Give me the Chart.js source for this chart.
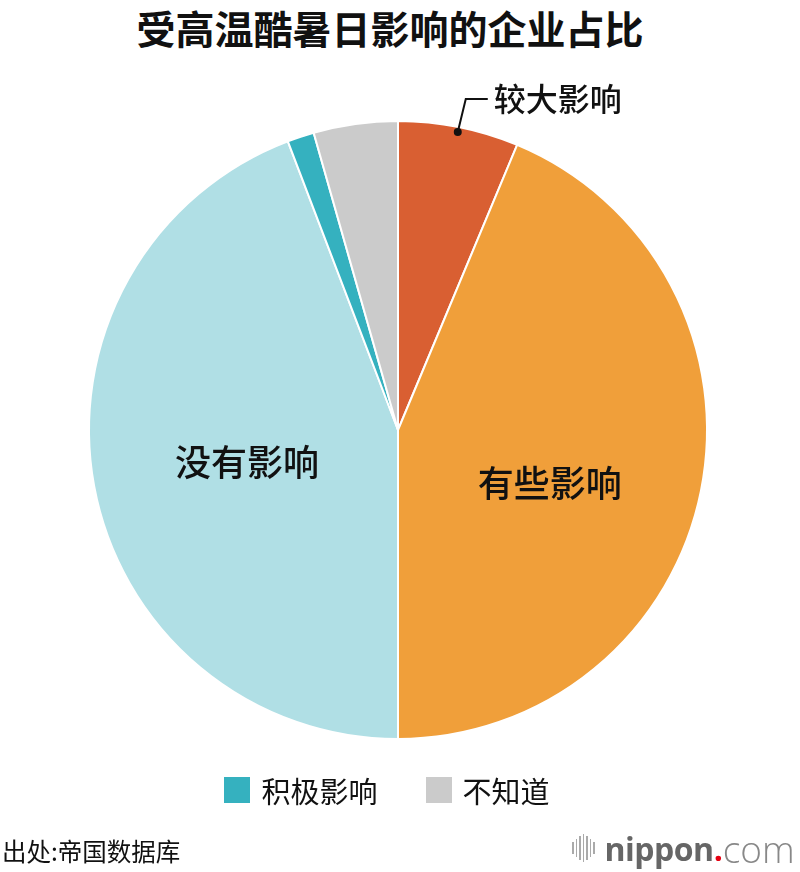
<!DOCTYPE html>
<html>
<head>
<meta charset="utf-8">
<script src="https://cdn.jsdelivr.net/npm/chart.js@4.4.1/dist/chart.umd.min.js"></script>
<style>
  body { margin: 0; background: #fff; font-family: "Noto Sans CJK SC", sans-serif; }
  #page { position: relative; width: 800px; height: 872px; overflow: hidden; }
  #title { position: absolute; top: 0; left: 0; width: 780px; text-align: center; margin: 0;
    font-size: 39px; line-height: 54px; font-weight: 700; color: #111; }
  #chartBox { position: absolute; left: 0; top: 0; width: 800px; height: 872px; }
  #legend { position: absolute; top: 770px; left: 0; width: 774px; display: flex; justify-content: center; gap: 48px; }
  .item { display: flex; align-items: center; font-size: 29px; line-height: 40px; color: #111; }
  .box { width: 26px; height: 26px; margin-right: 11px; }
  #source { position: absolute; left: 2px; top: 834px; font-size: 24.5px; line-height: 34px; color: #111; }
  #logo { position: absolute; left: 572px; top: 826px; height: 44px; display: flex; align-items: center; }
  .bars { display: flex; align-items: center; gap: 2px; margin-right: 10px; }
  .bars span { display: block; width: 1.5px; background: #aaa; }
  .nip { font-family: "Open Sans", sans-serif; font-weight: 700; font-size: 32px; color: #666; letter-spacing: -0.5px; }
  .dot { font-family: "Open Sans", sans-serif; font-weight: 700; font-size: 32px; color: #e60012; }
  .com { font-family: "Open Sans", sans-serif; font-weight: 300; font-size: 37px; color: #888; }
</style>
</head>
<body>
<div id="page">
  <h1 id="title">受高温酷暑日影响的企业占比</h1>
  <div id="chartBox"><canvas id="myChart"></canvas></div>
  <div id="legend"></div>
  <div id="source">出处:帝国数据库</div>
  <div id="logo">
    <div class="bars">
      <span style="height:12px"></span><span style="height:18px"></span><span style="height:24px"></span>
      <span style="height:28px"></span><span style="height:24px"></span><span style="height:18px"></span>
      <span style="height:12px"></span>
    </div>
    <span class="nip">nippon</span><span class="dot">.</span><span class="com">com</span>
  </div>
</div>
<script>
const categories = ["较大影响", "有些影响", "没有影响", "积极影响", "不知道"];
const shares = [6.3, 43.7, 44.2, 1.4, 4.4];
const colors = ["#D95F32", "#F09F3A", "#B0DFE5", "#35B1BF", "#CBCBCB"];
const legendShown = ["积极影响", "不知道"];

// labels written on the slices: where along the arc and how far out
const insideLabels = [
  { index: 1, along: 0.55, dist: 0.52 },
  { index: 2, along: 0.49, dist: 0.50 },
];
const calloutIndex = 0;

const sliceLabels = {
  id: "sliceLabels",
  afterDatasetsDraw(chart) {
    const ctx = chart.ctx;
    const arcs = chart.getDatasetMeta(0).data;
    ctx.save();
    ctx.fillStyle = "#111";
    ctx.textAlign = "center";
    ctx.textBaseline = "middle";
    ctx.font = '500 36px "Noto Sans CJK SC"';
    insideLabels.forEach((l) => {
      const a = arcs[l.index].getProps(["x", "y", "startAngle", "endAngle", "outerRadius"], true);
      const ang = a.startAngle + (a.endAngle - a.startAngle) * l.along;
      const r = a.outerRadius * l.dist;
      ctx.fillText(categories[l.index], a.x + Math.cos(ang) * r, a.y + Math.sin(ang) * r);
    });

    // leader line for the small slice
    const c = arcs[calloutIndex].getProps(["x", "y", "startAngle", "endAngle", "outerRadius"], true);
    const mid = (c.startAngle + c.endAngle) / 2;
    const dx = c.x + Math.cos(mid) * (c.outerRadius - 5);
    const dy = c.y + Math.sin(mid) * (c.outerRadius - 5);
    ctx.beginPath();
    ctx.arc(dx, dy, 4, 0, Math.PI * 2);
    ctx.fill();
    ctx.strokeStyle = "#111";
    ctx.lineWidth = 2;
    ctx.beginPath();
    ctx.moveTo(dx, dy);
    ctx.lineTo(dx + 8, dy - 33);
    ctx.lineTo(dx + 30, dy - 33);
    ctx.stroke();
    ctx.textAlign = "left";
    ctx.font = '500 32px "Noto Sans CJK SC"';
    ctx.fillText(categories[calloutIndex], dx + 36, dy - 33);
    ctx.restore();
  },
};

const myChart = new Chart("myChart", {
  type: "pie",
  data: {
    labels: categories,
    datasets: [
      {
        data: shares,
        backgroundColor: colors,
        borderColor: "#fff",
        borderWidth: 2,
      },
    ],
  },
  options: {
    responsive: true,
    maintainAspectRatio: false,
    animation: false,
    layout: { padding: { top: 120, bottom: 132, left: 88, right: 92 } },
    plugins: {
      legend: { display: false },
      tooltip: { enabled: false },
    },
  },
  plugins: [sliceLabels],
});

// legend only for the two thin slices
const legendEl = document.getElementById("legend");
legendShown.forEach((name) => {
  const i = categories.indexOf(name);
  const item = document.createElement("div");
  item.className = "item";
  item.innerHTML = '<span class="box" style="background:' + colors[i] + '"></span>' + name;
  legendEl.appendChild(item);
});
</script>
</body>
</html>
